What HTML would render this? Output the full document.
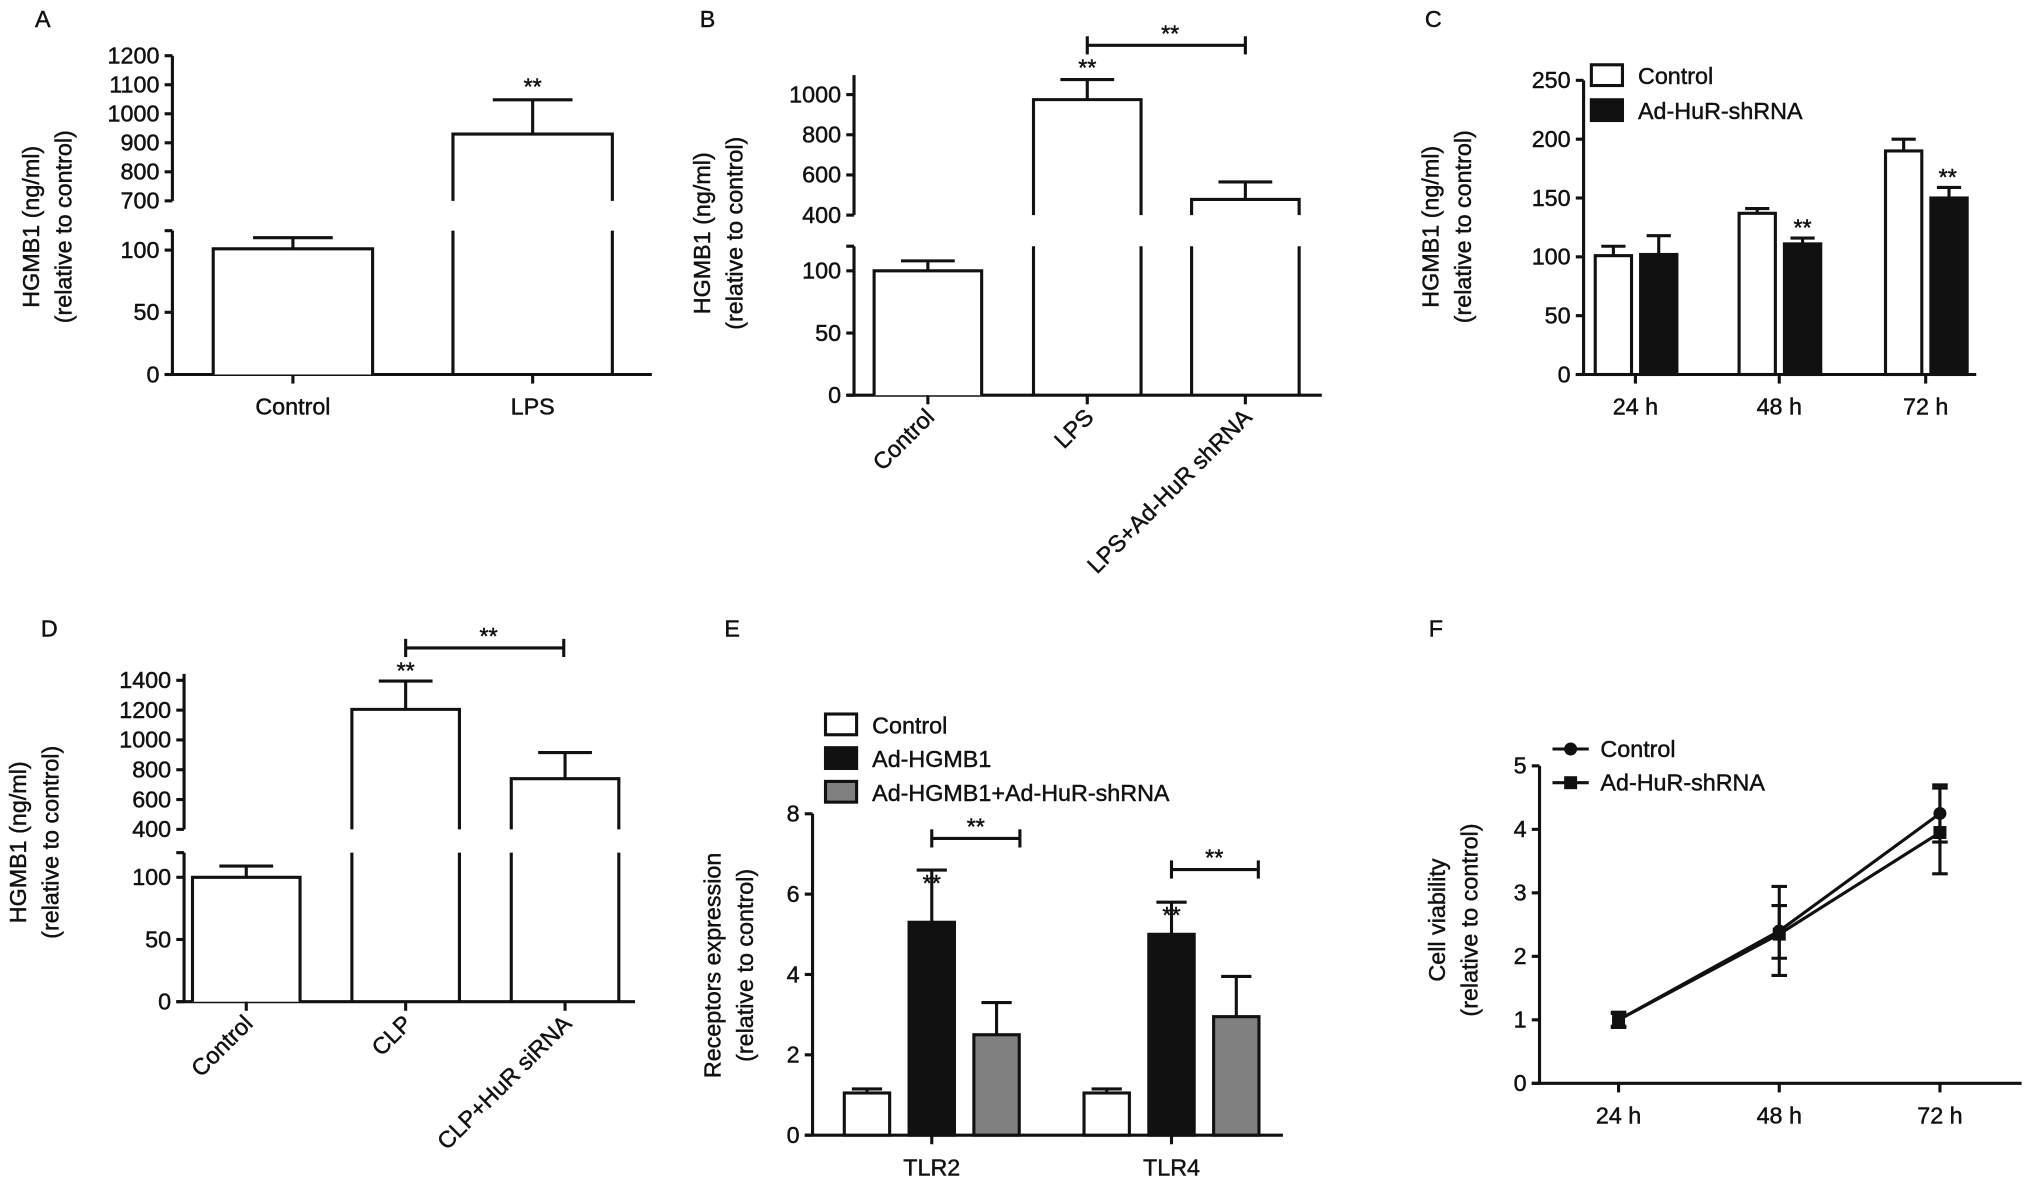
<!DOCTYPE html>
<html><head><meta charset="utf-8">
<style>
html,body{margin:0;padding:0;background:#fff;}
svg{display:block;}
text{font-family:"Liberation Sans",Arial,sans-serif;fill:#111;stroke:#111;stroke-width:0.35px;}
</style></head>
<body>
<svg id="fig" width="2032" height="1187" viewBox="0 0 1568 916" xmlns="http://www.w3.org/2000/svg"></svg>
<script>
// ---- Panel A data
const aCats=["Control","LPS"];
const aVals=[101,930];
const aErr=[110,1048];
const aTicksLow=[0,50,100];
const aTicksUp=[700,800,900,1000,1100,1200];
// ---- Panel B data
const bCats=["Control","LPS","LPS+Ad-HuR shRNA"];
const bVals=[100,975,478];
const bErr=[108,1075,565];
const bTicksLow=[0,50,100];
const bTicksUp=[400,600,800,1000];
// ---- Panel C data
const cCats=["24 h","48 h","72 h"];
const cControl=[101,137,190];
const cControlErr=[109,141,200];
const cShrna=[102,111,150];
const cShrnaErr=[118,116,159];
const cTicks=[0,50,100,150,200,250];
// ---- Panel D data
const dCats=["Control","CLP","CLP+HuR siRNA"];
const dVals=[100,1205,740];
const dErr=[109,1395,915];
const dTicksLow=[0,50,100];
const dTicksUp=[400,600,800,1000,1200,1400];
// ---- Panel E data
const eCats=["TLR2","TLR4"];
const eControl=[1.05,1.05];
const eControlErr=[1.15,1.15];
const eHgmb=[5.3,5.0];
const eHgmbErr=[6.6,5.8];
const eCombo=[2.5,2.95];
const eComboErr=[3.3,3.95];
const eTicks=[0,2,4,6,8];
// ---- Panel F data
const fCats=["24 h","48 h","72 h"];
const fControl=[1.0,2.4,4.25];
const fControlLo=[0.9,1.97,3.8];
const fControlHi=[1.1,2.8,4.7];
const fShrna=[1.0,2.35,3.95];
const fShrnaLo=[0.88,1.7,3.3];
const fShrnaHi=[1.12,3.1,4.65];
const fTicks=[0,1,2,3,4,5];

const svg=document.getElementById('fig');
const NS='http://www.w3.org/2000/svg';
const SW=2.4;
const FS=18;
function el(tag,attrs,parent){const e=document.createElementNS(NS,tag);for(const k in attrs)e.setAttribute(k,attrs[k]);(parent||svg).appendChild(e);return e;}
function line(x1,y1,x2,y2,p,w){return el('line',{x1,y1,x2,y2,stroke:'#111','stroke-width':w||SW},p);}
function txt(s,x,y,p,opts){const t=el('text',Object.assign({x,y,'font-size':FS,'text-anchor':'middle'},opts||{}),p);t.textContent=s;return t;}
function group(name){const g=el('g',{});return g;}

function ytitle(g,x,y,l1,l2){
  const t1=txt(l1,0,0,g,{transform:`translate(${x},${y}) rotate(-90)`});
  
  
  const t2=txt(l2,0,0,g,{transform:`translate(${x+25},${y}) rotate(-90)`});
  
  
}
function letter(g,s,x,y){const t=txt(s,x,y,g,{'font-size':18});}
function stars(g,x,y){const t=txt('**',x,y,g,{'font-size':18});}

function brokenPanel(o){
  const g=group(o.name);
  const yS=v=> v<=o.lowMax ? o.base - v*o.kL : o.upY0 - (v-o.upMin)*o.kU;
  line(o.ax,o.base+1,o.ax,o.lowTop,g);
  line(o.ax,o.upY0,o.ax,o.upTop,g);
  line(o.ax-6,o.lowTop,o.ax,o.lowTop,g);
  line(o.ax-6,o.base,o.axEnd,o.base,g);
  o.ticksLow.forEach(v=>{line(o.ax-6,yS(v),o.ax,yS(v),g);txt(String(v),o.ax-10,yS(v)+6,g,{'text-anchor':'end'});});
  o.ticksUp.forEach(v=>{line(o.ax-6,yS(v),o.ax,yS(v),g);txt(String(v),o.ax-10,yS(v)+6,g,{'text-anchor':'end'});});
  o.vals.forEach((v,i)=>{
    const cx=o.cx[i],x0=cx-o.bw/2,x1=cx+o.bw/2;
    const bg=el('g',{},g);
    
    
    const yt=yS(v);
    if(v<=o.lowMax){
      el('path',{d:`M${x0},${o.base} L${x0},${yt} L${x1},${yt} L${x1},${o.base}`,fill:'#fff',stroke:'#111','stroke-width':SW},bg);
    } else {
      line(x0,o.base,x0,o.lowTop,bg);line(x1,o.base,x1,o.lowTop,bg);
      el('path',{d:`M${x0},${o.upY0} L${x0},${yt} L${x1},${yt} L${x1},${o.upY0}`,fill:'none',stroke:'#111','stroke-width':SW},bg);
    }
    const ye=yS(o.err[i]);
    line(cx,yt,cx,ye,bg);line(cx-o.bw/4,ye,cx+o.bw/4,ye,bg);
    line(cx,o.base,cx,o.base+7,g);
    if(o.rot){
      const t=txt(o.cats[i],0,0,g,{'text-anchor':'end',transform:`translate(${cx+6},${o.base+18}) rotate(-45)`});
      
    } else {
      const t=txt(o.cats[i],cx,o.base+31,g);
      
    }
  });
  return {g,yS};
}

{
  const A=brokenPanel({name:'panel-a',cats:aCats,vals:aVals,err:aErr,ticksLow:aTicksLow,ticksUp:aTicksUp,
    ax:133,axEnd:503,base:289,kL:0.96,lowMax:120,lowTop:178,upMin:700,upY0:155,kU:0.224,upTop:43,
    cx:[226,411],bw:123});
  letter(A.g,'A',33,21);
  ytitle(A.g,30,175,'HGMB1 (ng/ml)','(relative to control)');
  stars(A.g,411,A.yS(aErr[1])-4);
}
{
  const B=brokenPanel({name:'panel-b',cats:bCats,vals:bVals,err:bErr,ticksLow:bTicksLow,ticksUp:bTicksUp,
    ax:659,axEnd:1020,base:305,kL:0.96,lowMax:120,lowTop:190,upMin:400,upY0:166,kU:0.155,upTop:58,
    cx:[716,839,961],bw:83,rot:true});
  letter(B.g,'B',546,21);
  ytitle(B.g,548,180,'HGMB1 (ng/ml)','(relative to control)');
  stars(B.g,839,B.yS(bErr[1])-3);
  line(839,35,961,35,B.g);line(839,28,839,42,B.g);line(961,28,961,42,B.g);
  stars(B.g,903,32);
}
{
  const D=brokenPanel({name:'panel-d',cats:dCats,vals:dVals,err:dErr,ticksLow:dTicksLow,ticksUp:dTicksUp,
    ax:142,axEnd:490,base:773,kL:0.96,lowMax:120,lowTop:658,upMin:400,upY0:640,kU:0.115,upTop:520,
    cx:[190,313,436],bw:83,rot:true});
  letter(D.g,'D',38,491);
  ytitle(D.g,20,650,'HGMB1 (ng/ml)','(relative to control)');
  stars(D.g,313,D.yS(dErr[1])-2);
  line(313,500,435,500,D.g);line(313,493,313,507,D.g);line(435,493,435,507,D.g);
  stars(D.g,377,497);
}
function groupedPanel(o){
  const g=group(o.name);
  const yS=v=>o.base-v*o.k;
  line(o.ax,o.base+1,o.ax,yS(o.ticks[o.ticks.length-1]),g);
  line(o.ax-6,o.base,o.axEnd,o.base,g);
  o.ticks.forEach(v=>{line(o.ax-6,yS(v),o.ax,yS(v),g);txt(String(v),o.ax-10,yS(v)+6,g,{'text-anchor':'end'});});
  o.cats.forEach((c,i)=>{
    line(o.cx[i],o.base,o.cx[i],o.base+7,g);
    const t=txt(c,o.cx[i],o.base+31,g);
    o.series.forEach((s,j)=>{
      const x=o.cx[i]+o.offs[j]-o.bw/2,yt=yS(s.vals[i]);
      const r=el('rect',{x,y:yt,width:o.bw,height:o.base-yt,fill:s.fill,stroke:'#111','stroke-width':SW},g);
      
      
      const cx=o.cx[i]+o.offs[j],ye=yS(s.err[i]);
      line(cx,yt,cx,ye,g);line(cx-o.bw/3,ye,cx+o.bw/3,ye,g);
    });
  });
  return {g,yS};
}
function legendEntry(g,x,y,fill,label,name){
  const lg=el('g',{},g);
  el('rect',{x,y,width:24,height:16,fill,stroke:'#111','stroke-width':SW},lg);
  txt(label,x+36,y+15,lg,{'text-anchor':'start','font-size':18});
}
{
  const C=groupedPanel({name:'panel-c',cats:cCats,ticks:cTicks,ax:1222,axEnd:1525,base:289,k:0.908,
    cx:[1262,1373,1486],offs:[-17,18],bw:28,
    series:[{key:'control',vals:cControl,err:cControlErr,fill:'#fff'},{key:'shrna',vals:cShrna,err:cShrnaErr,fill:'#111'}]});
  letter(C.g,'C',1106,21);
  ytitle(C.g,1110,175,'HGMB1 (ng/ml)','(relative to control)');
  stars(C.g,1391,C.yS(cShrnaErr[1])-2);
  stars(C.g,1503,C.yS(cShrnaErr[2])-2);
  legendEntry(C.g,1228,50,'#fff','Control','legend-control');
  legendEntry(C.g,1228,77,'#111','Ad-HuR-shRNA','legend-ad-hur-shrna');
}
{
  const E=groupedPanel({name:'panel-e',cats:eCats,ticks:eTicks,ax:627,axEnd:990,base:876,k:31,
    cx:[719,904],offs:[-50,0,50],bw:35,
    series:[{key:'control',vals:eControl,err:eControlErr,fill:'#fff'},{key:'ad-hgmb1',vals:eHgmb,err:eHgmbErr,fill:'#111'},{key:'combo',vals:eCombo,err:eComboErr,fill:'#808080'}]});
  letter(E.g,'E',565,491);
  ytitle(E.g,556,745,'Receptors expression','(relative to control)');
  stars(E.g,719,E.yS(eHgmbErr[0])+16);
  stars(E.g,904,E.yS(eHgmbErr[1])+16);
  line(719,647,787,647,E.g);line(719,640,719,654,E.g);line(787,640,787,654,E.g);stars(E.g,753,644);
  line(904,671,971,671,E.g);line(904,664,904,678,E.g);line(971,664,971,678,E.g);stars(E.g,937,668);
  legendEntry(E.g,637,551,'#fff','Control','legend-control');
  legendEntry(E.g,637,577,'#111','Ad-HGMB1','legend-ad-hgmb1');
  legendEntry(E.g,637,603,'#808080','Ad-HGMB1+Ad-HuR-shRNA','legend-combo');
}
{
  const g=group('panel-f');
  const ax=1188,base=836,k=49,cx=[1249,1373,1497];
  const yS=v=>base-v*k;
  line(ax,base+1,ax,yS(5),g);line(ax-6,base,1560,base,g);
  fTicks.forEach(v=>{line(ax-6,yS(v),ax,yS(v),g);txt(String(v),ax-10,yS(v)+6,g,{'text-anchor':'end'});});
  fCats.forEach((c,i)=>{line(cx[i],base,cx[i],base+7,g);const t=txt(c,cx[i],base+31,g);});
  function series(vals,lo,hi,marker,name){
    const sg=el('g',{},g);
    el('polyline',{points:vals.map((v,i)=>cx[i]+','+yS(v)).join(' '),fill:'none',stroke:'#111','stroke-width':SW},sg);
    vals.forEach((v,i)=>{
      line(cx[i],yS(lo[i]),cx[i],yS(hi[i]),sg);
      line(cx[i]-6,yS(lo[i]),cx[i]+6,yS(lo[i]),sg);line(cx[i]-6,yS(hi[i]),cx[i]+6,yS(hi[i]),sg);
      if(marker==='c')el('circle',{cx:cx[i],cy:yS(v),r:5,fill:'#111'},sg);
      else el('rect',{x:cx[i]-5,y:yS(v)-5,width:10,height:10,fill:'#111'},sg);
    });
  }
  series(fControl,fControlLo,fControlHi,'c','series-control');
  series(fShrna,fShrnaLo,fShrnaHi,'s','series-ad-hur-shrna');
  const l1=el('g',{},g);
  line(1198,578,1226,578,l1);el('circle',{cx:1212,cy:578,r:5,fill:'#111'},l1);txt('Control',1235,584,l1,{'text-anchor':'start','font-size':18});
  const l2=el('g',{},g);
  line(1198,604,1226,604,l2);el('rect',{x:1207,y:599,width:10,height:10,fill:'#111'},l2);txt('Ad-HuR-shRNA',1235,610,l2,{'text-anchor':'start','font-size':18});
  letter(g,'F',1108,491);
  ytitle(g,1115,710,'Cell viability','(relative to control)');
}
</script>
</body></html>
